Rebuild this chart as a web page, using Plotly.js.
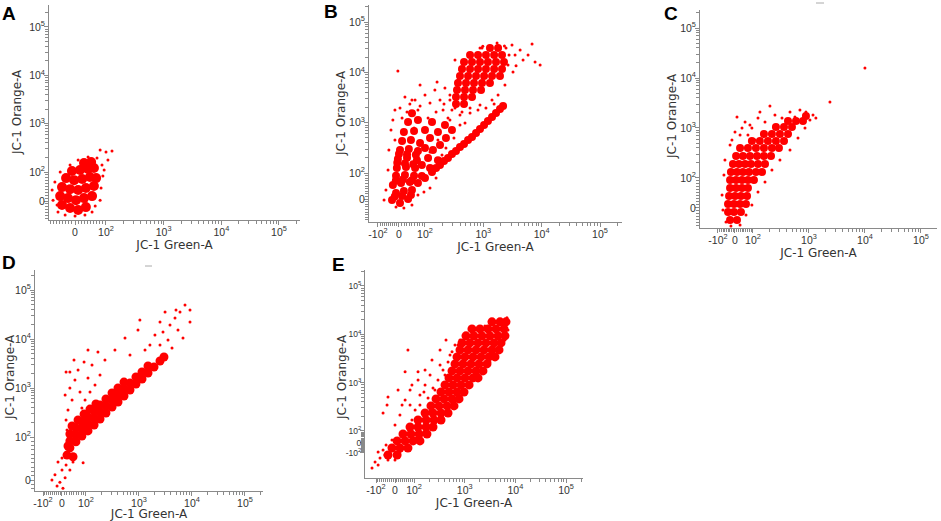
<!DOCTYPE html>
<html><head><meta charset="utf-8">
<script src="https://cdn.plot.ly/plotly-3.0.1.min.js"></script>
<style>html,body{margin:0;padding:0;background:#fff}#chart{width:941px;height:521px}</style>
</head><body><div id="chart"></div>
<script>
// Flow cytometry events: x = JC-1 Green-A, y = JC-1 Orange-A (fluorescence units)
// "dense" = representative events inside the solid-red cores, "sparse" = isolated events
const panelLabels = ['A','B','C','D','E'];
const xTitle = 'JC-1 Green-A';
const yTitle = 'JC-1 Orange-A';
const tickLabelsNeg = ['-10<sup>2</sup>','0','10<sup>2</sup>','10<sup>3</sup>','10<sup>4</sup>','10<sup>5</sup>'];
const tickLabelsPos = ['0','10<sup>2</sup>','10<sup>3</sup>','10<sup>4</sup>','10<sup>5</sup>'];

// Panel A
const aDenseX = [-42,-16,10,35,-48,-23,3,29,55,-42,-16,10,35,61,-29,-3,23,48,68,-10,16,42,61,29,52];
const aDenseY = [-14,-24,-31,-21,17,10,3,10,17,48,41,38,45,52,79,72,76,83,79,105,110,115,121,154,161];
const aSparseX = [-71,-74,-65,-55,-32,0,32,55,81,84,90,87,71,42,10,-16,-48,81,100,127,108,94,-58,65];
const aSparseY = [3,38,66,-38,-48,-52,-48,-38,3,45,86,140,195,204,177,140,100,285,259,272,177,110,-14,-17];

// Panel B
const bDenseX = [-33,4,35,-14,19,50,-29,8,42,-14,23,58,
  -10,27,62,-5,31,69,4,38,73,12,46,81,19,58,35,73,50,
  -20,12,46,-15,15,50,-8,23,55,0,31,65,
  73,100,132,181,248,340,467,640,877,1200,1650,2180,88,122,167,
  155,212,290,398,547,750,1030,1410,1930,
  88,113,100,137,181,122,167,229,290,220,100,132,
  1300,1790, 592,811,1110,1530,2090, 467,640,877,1200,1650,2260,
  431,592,811,1110,1530,2090, 398,547,750,1030,1410,1930, 368,505,692,950,1300,
  354,485,665,914, 340,467,640, 340,467];
const bDenseY = [-4,-15,0,23,31,35,54,62,65,89,92,89,
  126,132,126,190,200,180,286,300,274,432,453,395,653,684,1030,1130,1550,
  10,12,15,70,75,72,160,155,150,240,235,230,
  62,81,105,144,199,274,377,520,750,1080,1560,2150,88,126,180,
  126,173,239,329,453,624,900,1300,1870,
  144,199,314,286,360,497,653,497,716,900,716,1030,
  30500,30500, 22200,22200,22200,22200,22200, 16100,16100,16100,16100,16100,16100,
  11700,11700,11700,11700,11700,11700, 8480,8480,8480,8480,8480,8480, 6150,6150,6150,6150,6150,
  4470,4470,4470,4470, 3240,3240,3240, 2350,2350];
const bSparseX = [-5,-48,-38,-29,-52,-62,-71,4,42,81,23,62,100,148,220,122,181,268,161,327,81,327,398,368,290,3100,3500,2650,3230,2350,1790,1410,877,592,1720,877,4270,5850,7710,9400,6840,4800,3640,-14,19,50,73,96,122,155,58,31,-19,268,398,204,485,
  113,155,212,268,167,229,314,398,248,122,196,73,50,12,-19,592,811,1110,1530,431,
  950,2450,2760,980,2300];
const bSparseY = [10700,286,716,1130,115,35,-4,1960,2350,2150,3240,2830,3560,4470,4900,2470,2830,3560,6440,1960,5620,17600,11200,7060,1790,35100,22200,14000,10200,5610,3560,2830,2250,1960,38400,30500,27900,22200,16100,14000,36700,17600,13600,-31,-35,-23,15,27,42,81,785,1630,453,1130,1420,1790,986,
  1240,1630,2350,2830,453,314,497,900,1240,261,228,1790,2830,1240,1790,1560,1790,1960,2350,1630,
  30500,30500,22200,33000,33500];

// Panel C
const cDenseX = [-29,11,-41,-6,33,-41,-6,28,61,-35,0,33,67,-29,6,39,72,-29,6,39,72,104,-24,11,44,78,113,145,-12,22,56,89,123,164,6,44,83,118,157,210,28,72,113,157,218,291,94,133,185,257,358,157,218,303,422,257,358,497,422,586,782,883];
const cDenseY = [-40,-40,-13,-13,-13,13,13,13,13,40,40,40,40,67,67,67,67,93,93,93,93,93,132,132,132,132,132,132,191,191,191,191,191,191,275,275,275,275,275,275,398,398,398,398,398,398,550,550,550,550,550,759,759,759,759,1050,1050,1050,1380,1380,1380,1740];
const cSparseX = [-18,11,-29,0,39,72,56,94,123,164,201,133,247,330,458,562,690,883,1180,1330,1040,2370,10000,-59,-65,-76,-71,-53,-24,28,61,94,123,164,218,303,458,637,849,83,28,109];
const cSparseY = [575,1660,457,832,1000,724,1320,1000,1580,1320,2750,2090,1820,1580,2090,1660,2290,2090,1820,1580,1450,3310,15800,229,115,43,-7,-47,-60,-57,-23,10,53,87,145,229,363,631,1000,1150,724,575];

// Panel D
const dDenseX = [33,58,83,109,142,184,238,310,402,521,676,877,1140,1480,1920,2490,2960,
  33,58,83,109,142,184,238,310,402,521,676,877,1140,1480,
  33,58,83,109,142,184,238,310,402,521,
  42,67,92,119,154, 21,46,25];
const dDenseY = [75,89,105,133,176,233,309,410,518,687,910,1210,1530,2020,2680,3560,4300,
  91,110,146,184,244,324,430,569,719,955,1260,1680,2120,2810,
  115,153,202,256,340,450,597,791,1000,1320,
  168,222,294,372,471, 58,54,79];
const dSparseX = [17,25,42,13,33,54,75,96,119,67,33,109,148,92,130,184,50,17,168,109,228,83,21,
  -21,0,-37,-11,13,-53,17,0,33,-26,4,46,88,
  545,1040,2000,2490,3100,3850,4780,5940,7380,9170,5440,3530,4200,6760,2490,1300,676,352,957,1610,2840,4990,9170];
const dSparseY = [222,356,569,719,1000,1460,828,569,828,2330,2120,1600,1150,3400,2950,1840,3720,2120,5430,5970,3720,391,139,
  42,23,12,-5,5,0,35,51,23,-14,-19,42,40,
  10500,24400,12100,22200,35600,19300,26800,35600,49400,39100,15300,9550,6550,10500,7550,5970,4710,5970,15300,7550,13900,39100,22200];

// Panel E
const eDenseX = [3450,4970,6530, 1390,2000,2880,4140,5960, 1060,1520,2190,3150,4540,6240,
  885,1270,1830,2630,3780,5200, 807,1160,1670,2400,3450,4750, 705,1010,1460,2100,3010,3960,
  644,925,1330,1910,2750, 562,807,1160,1670,2290, 490,705,1010,1460,1830,
  409,588,845,1220, 341,490,705,968, 272,391,562,773, 216,311,448,615,
  165,237,341,469, 120,173,248,341, 79,120,173,237, 42,84,126,180, 11,53,95,131, -16,26,68, -37,11];
const eDenseY = [18100,18100,18100, 12900,12900,12900,12900,12900, 9270,9270,9270,9270,9270,9270,
  6640,6640,6640,6640,6640,6640, 4750,4750,4750,4750,4750,4750, 3400,3400,3400,3400,3400,3400,
  2440,2440,2440,2440,2440, 1750,1750,1750,1750,1750, 1250,1250,1250,1250,1250,
  896,896,896,896, 641,641,641,641, 460,460,460,460, 330,330,330,330,
  236,236,236,236, 169,169,169,169, 121,121,121,121, 75,75,75,75, 17,17,17,17, -50,-50,-50, -120,-120];
const eSparseX = [53,79,105,131,165,207,259,326,409,513,644,807,1010,1270,165,120,26,0,79,89,68,-37,-42,-63,
  7150,6240,4970,3960,3150,2400,1750,1270,885,644,469,326,226,157,109,68,26,
  -105,-79,-53,-121,-89,-37,-63,-26,0,-16,-47,-89,
  6820,3960,2510,1830,1390,
  131,189,237,297,373,469,562,738,207,157,120,226,326,428,89,53,16,37];
const eSparseY = [438,706,272,556,896,1440,706,2320,1440,3740,6030,7650,9730,13600,1830,1140,214,133,345,169,4750,506,345,236,
  12300,7650,5230,3570,2680,1830,1250,855,556,398,272,186,133,92,42,-20,-90,
  -190,-150,-120,-250,-220,-170,-70,-90,-170,25,-20,-90,
  21900,18100,14900,12300,8410,
  345,482,777,1140,1830,2680,4330,6030,272,641,1670,2950,4750,7650,896,1670,706,345];

// ---- biexponential-like display scale (decades above 10^2, linear around 0) ----
const scales = {
  A:{x:{z0:1.463,zm:0.926,neg:false,range:[1.012,5.364],domain:[0.0521,0.3188]},
     y:{z0:1.400,zm:0.800,neg:false,range:[1.007,5.455],domain:[0.5777,0.9904]}},
  B:{x:{z0:1.554,zm:1.194,neg:true,range:[1.040,5.377],domain:[0.3921,0.6610]},
     y:{z0:1.483,zm:0.966,neg:false,range:[1.026,5.340],domain:[0.5739,0.9904]}},
  C:{x:{z0:1.679,zm:1.375,neg:true,range:[1.054,5.286],domain:[0.7439,0.9957]},
     y:{z0:1.400,zm:0.800,neg:false,range:[1.000,5.360],domain:[0.5624,0.9808]}},
  D:{x:{z0:1.547,zm:1.189,neg:true,range:[1.038,5.340],domain:[0.0372,0.2795]},
     y:{z0:1.122,zm:0.244,neg:false,range:[0.898,5.410],domain:[0.0576,0.4818]}},
  E:{x:{z0:1.625,zm:1.250,neg:true,range:[1.033,5.335],domain:[0.3879,0.6196]},
     y:{z0:1.752,zm:1.545,neg:true,range:[1.027,5.330],domain:[0.0825,0.4818]}}
};
const denseSize = {A:10, B:8, C:8, D:9, E:9};
const yTickSize = {A:10.5, B:10.5, C:10.5, D:10.5, E:8.5};
const yTitlePos = {A:[17,112], B:[341,113], C:[672,116], D:[10,377], E:[342,377]};
const letterPos = {A:[9,13], B:[331,11], C:[671,13], D:[9,262], E:[338,264]};

function tf(v,s){
  if (v>=100) return Math.log10(v);
  if (v>=0) return s.z0 + (2-s.z0)*v/100;
  return s.z0 + (s.z0-s.zm)*v/100;
}
function minorVals(s){
  const out=[];
  for (let v=-90; v<=90; v+=10){ if (v!==0) out.push(tf(v,s)); }
  for (let k=2;k<=5;k++) for (let m=2;m<=9;m++) out.push(Math.log10(m*Math.pow(10,k)));
  return out.filter(d=>d>s.range[0]+0.01 && d<s.range[1]-0.01);
}
const data = {
  A:[aDenseX,aDenseY,aSparseX,aSparseY],
  B:[bDenseX,bDenseY,bSparseX,bSparseY],
  C:[cDenseX,cDenseY,cSparseX,cSparseY],
  D:[dDenseX,dDenseY,dSparseX,dSparseY],
  E:[eDenseX,eDenseY,eSparseX,eSparseY]
};
const axisGrey = '#8a8a8a';
const tickFamily = 'Liberation Sans, Arial, sans-serif';
const titleFont = {family:'DejaVu Sans', size:12, color:'#333'};
const traces=[];
const layout = {
  width:941, height:521, margin:{l:0,r:0,t:0,b:0},
  paper_bgcolor:'#fff', plot_bgcolor:'rgba(0,0,0,0)', showlegend:false,
  annotations:[], shapes:[]
};
function axisDef(s, anchor, title, labelShift, fontSize){
  const vals = s.neg ? [s.zm, s.z0, 2,3,4,5] : [s.z0, 2,3,4,5];
  const ax = {
    domain:s.domain, range:s.range, anchor:anchor, fixedrange:true,
    showline:true, linecolor:axisGrey, linewidth:1, mirror:false,
    showgrid:false, zeroline:false,
    ticks:'outside', ticklen:4, tickwidth:1, tickcolor:axisGrey,
    tickmode:'array', tickvals:vals, ticktext: s.neg ? tickLabelsNeg : tickLabelsPos,
    tickfont:{family:tickFamily, size:fontSize, color:'#333'}, ticklabelstandoff:labelShift,
    minor:{tickmode:'array', tickvals:minorVals(s), ticks:'outside', ticklen:3, tickwidth:1, tickcolor:axisGrey, showgrid:false}
  };
  if (title) ax.title = {text:title, font:titleFont, standoff:1};
  return ax;
}
panelLabels.forEach((p,i)=>{
  const n = i===0 ? '' : String(i+1);
  const s = scales[p];
  const [dx,dy,sx,sy] = data[p];
  traces.push({type:'scatter', mode:'markers', xaxis:'x'+n, yaxis:'y'+n, hoverinfo:'skip',
    x:dx.map(v=>tf(v,s.x)), y:dy.map(v=>tf(v,s.y)),
    marker:{color:'#ff0000', size:denseSize[p], line:{width:0}}});
  traces.push({type:'scatter', mode:'markers', xaxis:'x'+n, yaxis:'y'+n, hoverinfo:'skip',
    x:sx.map(v=>tf(v,s.x)), y:sy.map(v=>tf(v,s.y)),
    marker:{color:'#ff0000', size:3, line:{width:0}}});
  layout['xaxis'+n] = axisDef(s.x, 'y'+n, xTitle, -2, 10.5);
  layout['yaxis'+n] = axisDef(s.y, 'x'+n, null, -3, yTickSize[p]);
  // y-axis title placed beside the tick labels
  layout.annotations.push({text:yTitle, textangle:-90, xref:'paper', yref:'paper',
    x:yTitlePos[p][0]/941, y:1-yTitlePos[p][1]/521, xanchor:'center', yanchor:'middle',
    showarrow:false, font:titleFont});
  layout.annotations.push({text:'<b>'+p+'</b>', xref:'paper', yref:'paper',
    x:letterPos[p][0]/941, y:1-letterPos[p][1]/521, xanchor:'center', yanchor:'middle',
    showarrow:false, font:{family:'Liberation Sans, Arial, sans-serif', size:19, color:'#000'}});
});
// small grey dashes present in the original figure
layout.shapes.push({type:'line', xref:'paper', yref:'paper', x0:816/941, x1:824/941, y0:1-3/521, y1:1-3/521, line:{color:'#aaa', width:1}});
layout.shapes.push({type:'line', xref:'paper', yref:'paper', x0:145/941, x1:152/941, y0:1-266/521, y1:1-266/521, line:{color:'#aaa', width:1}});
Plotly.newPlot('chart', traces, layout, {staticPlot:true, displayModeBar:false});
</script>
</body></html>
